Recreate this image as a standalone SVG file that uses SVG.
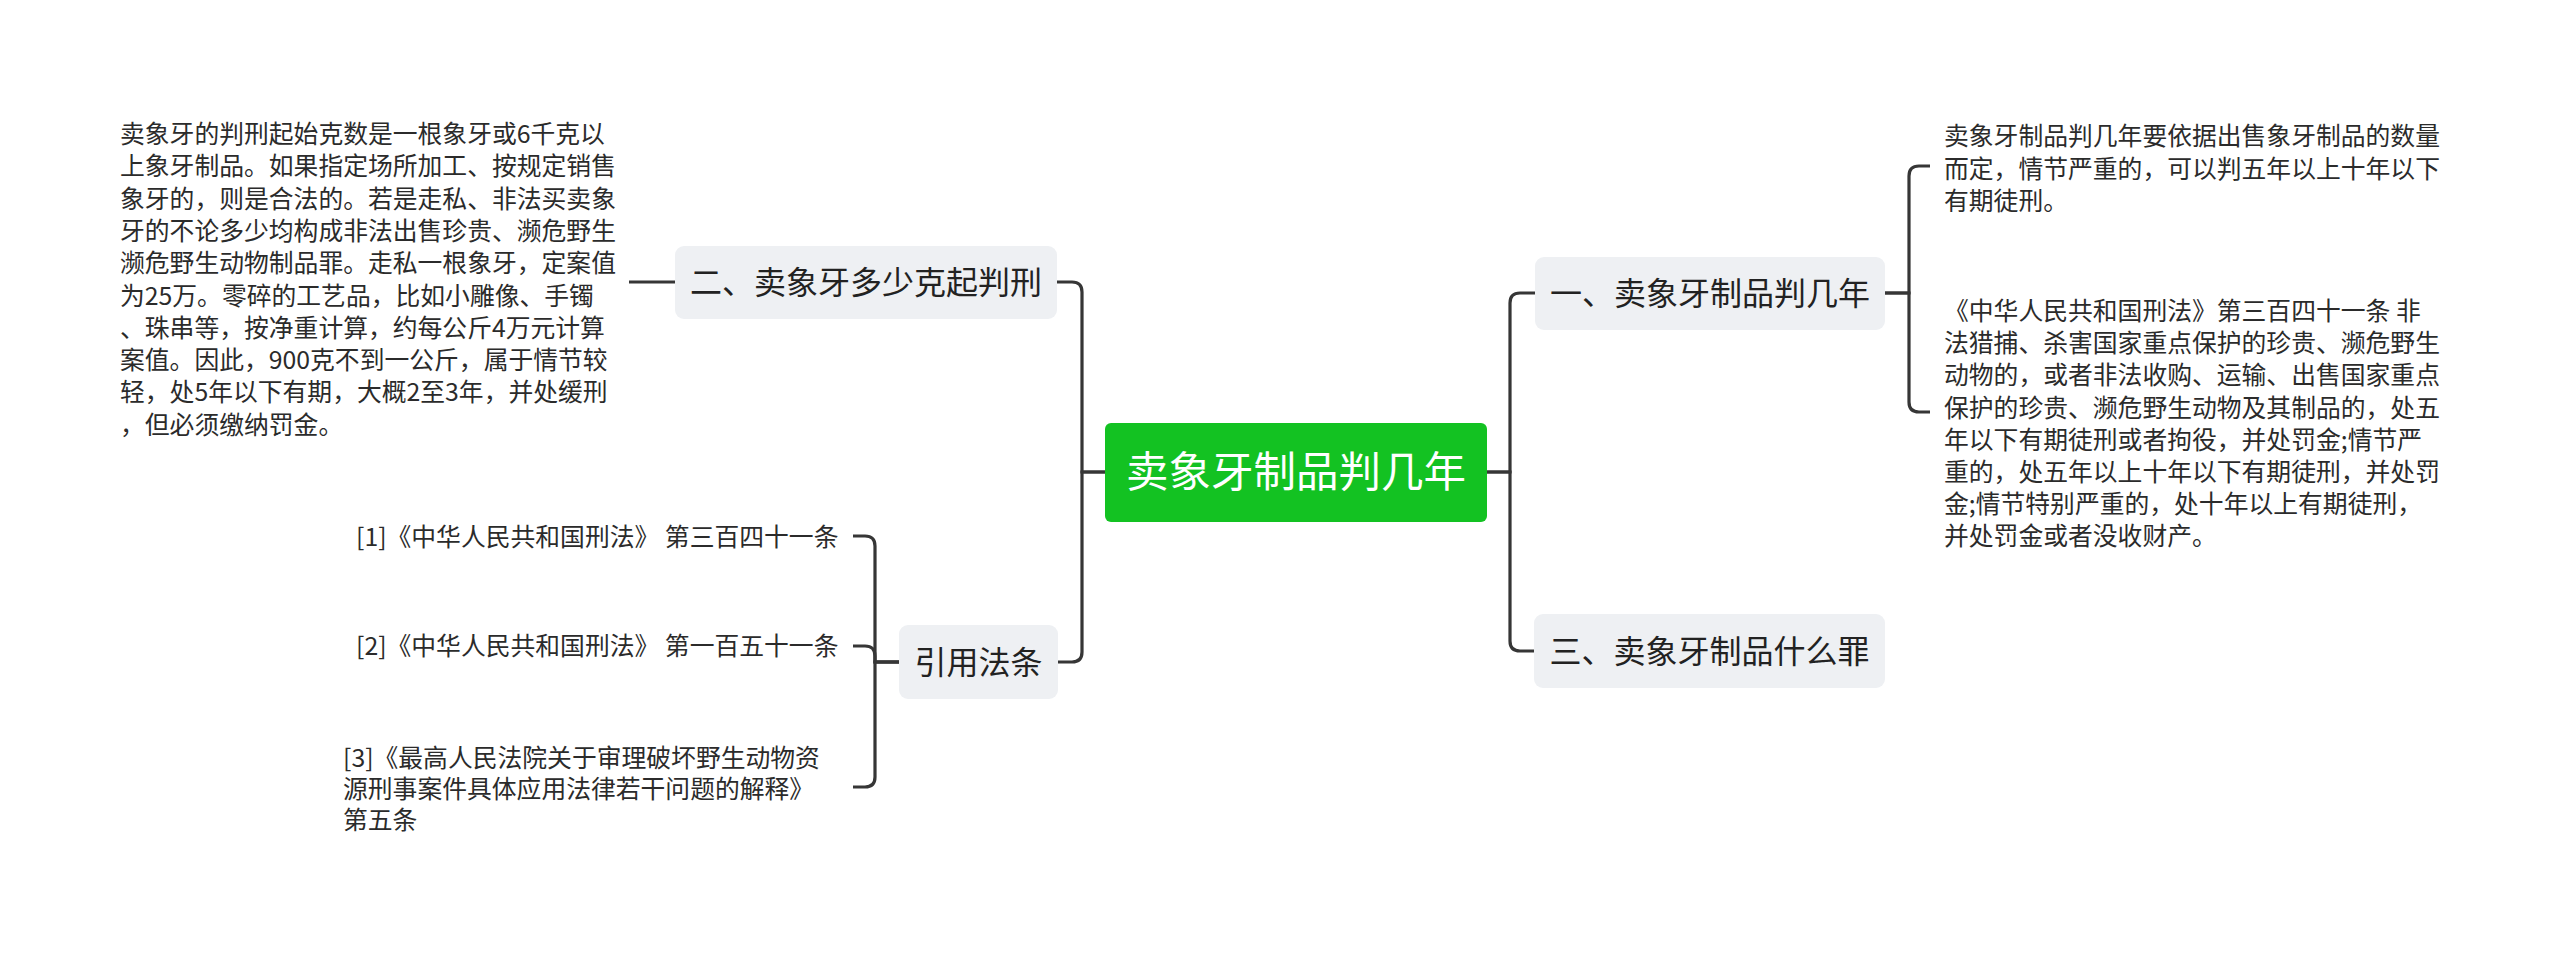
<svg xmlns="http://www.w3.org/2000/svg" width="2560" height="955" viewBox="0 0 2560 955">
<style>
.bg{fill:#ffffff}
.node rect{fill:#EEF0F3}
.ntxt{font-family:"Noto Sans CJK SC","Noto Sans",sans-serif;font-size:32px;fill:#222222;text-anchor:middle}
.root rect{fill:#13C222}
.rtxt{font-family:"Noto Sans CJK SC","Noto Sans",sans-serif;font-size:42.5px;fill:#ffffff;text-anchor:middle}
.body{font-family:"Noto Sans CJK SC","Noto Sans",sans-serif;font-size:24.8px;fill:#2b2b2b}
.conn path{fill:none;stroke:#363636;stroke-width:3.2;stroke-linecap:butt}
</style>
<rect class="bg" x="0" y="0" width="2560" height="955"/>
<g id="connectors" class="conn">
<path d="M1105 472 H1082 V292 Q1082 282 1072 282 H1057"/>
<path d="M1105 472 H1082 V652 Q1082 662 1072 662 H1058"/>
<path d="M1487 472 H1510 V303 Q1510 293 1520 293 H1535"/>
<path d="M1487 472 H1510 V641 Q1510 651 1520 651 H1534"/>
<path d="M1885 293 H1909 V176 Q1909 166 1919 166 H1930"/>
<path d="M1885 293 H1909 V402 Q1909 412 1919 412 H1930"/>
<path d="M675 282 H629"/>
<path d="M899 662 H875 V546 Q875 536 865 536 H853"/>
<path d="M899 662 H875 V656 Q875 646 865 646 H853"/>
<path d="M899 662 H875 V777 Q875 787 865 787 H853"/>
</g>
<g id="root" class="root">
<rect x="1105" y="423" width="382" height="99" rx="6"/>
<text class="rtxt" x="1296" y="487">卖象牙制品判几年</text>
</g>
<g id="n1" class="node">
<rect x="1535" y="257" width="350" height="73" rx="9"/>
<text class="ntxt" x="1710" y="304.5">一、卖象牙制品判几年</text>
</g>
<g id="n2" class="node">
<rect x="675" y="246" width="382" height="73" rx="9"/>
<text class="ntxt" x="866" y="293.5">二、卖象牙多少克起判刑</text>
</g>
<g id="n3" class="node">
<rect x="1534" y="614" width="351" height="74" rx="9"/>
<text class="ntxt" x="1709.5" y="662.5">三、卖象牙制品什么罪</text>
</g>
<g id="n4" class="node">
<rect x="899" y="625" width="159" height="74" rx="9"/>
<text class="ntxt" x="978.5" y="673.5">引用法条</text>
</g>
<g id="t1a">
<text class="body" x="1944" y="145">卖象牙制品判几年要依据出售象牙制品的数量</text>
<text class="body" x="1944" y="177.5">而定，情节严重的，可以判五年以上十年以下</text>
<text class="body" x="1944" y="210">有期徒刑。</text>
</g>
<g id="t1b">
<text class="body" x="1944" y="320">《中华人民共和国刑法》第三百四十一条 非</text>
<text class="body" x="1944" y="352.2">法猎捕、杀害国家重点保护的珍贵、濒危野生</text>
<text class="body" x="1944" y="384.4">动物的，或者非法收购、运输、出售国家重点</text>
<text class="body" x="1944" y="416.6">保护的珍贵、濒危野生动物及其制品的，处五</text>
<text class="body" x="1944" y="448.8">年以下有期徒刑或者拘役，并处罚金;情节严</text>
<text class="body" x="1944" y="481">重的，处五年以上十年以下有期徒刑，并处罚</text>
<text class="body" x="1944" y="513.2">金;情节特别严重的，处十年以上有期徒刑，</text>
<text class="body" x="1944" y="545.4">并处罚金或者没收财产。</text>
</g>
<g id="t2">
<text class="body" x="120" y="143">卖象牙的判刑起始克数是一根象牙或6千克以</text>
<text class="body" x="120" y="175.3">上象牙制品。如果指定场所加工、按规定销售</text>
<text class="body" x="120" y="207.6">象牙的，则是合法的。若是走私、非法买卖象</text>
<text class="body" x="120" y="239.9">牙的不论多少均构成非法出售珍贵、濒危野生</text>
<text class="body" x="120" y="272.2">濒危野生动物制品罪。走私一根象牙，定案值</text>
<text class="body" x="120" y="304.5">为25万。零碎的工艺品，比如小雕像、手镯</text>
<text class="body" x="120" y="336.8">、珠串等，按净重计算，约每公斤4万元计算</text>
<text class="body" x="120" y="369.1">案值。因此，900克不到一公斤，属于情节较</text>
<text class="body" x="120" y="401.4">轻，处5年以下有期，大概2至3年，并处缓刑</text>
<text class="body" x="120" y="433.7">，但必须缴纳罚金。</text>
</g>
<g id="r1">
<text class="body" x="356" y="546">[1]《中华人民共和国刑法》 第三百四十一条</text>
</g>
<g id="r2">
<text class="body" x="356" y="655">[2]《中华人民共和国刑法》 第一百五十一条</text>
</g>
<g id="r3">
<text class="body" x="343" y="767">[3]《最高人民法院关于审理破坏野生动物资</text>
<text class="body" x="343" y="798">源刑事案件具体应用法律若干问题的解释》</text>
<text class="body" x="343" y="829">第五条</text>
</g>
</svg>
